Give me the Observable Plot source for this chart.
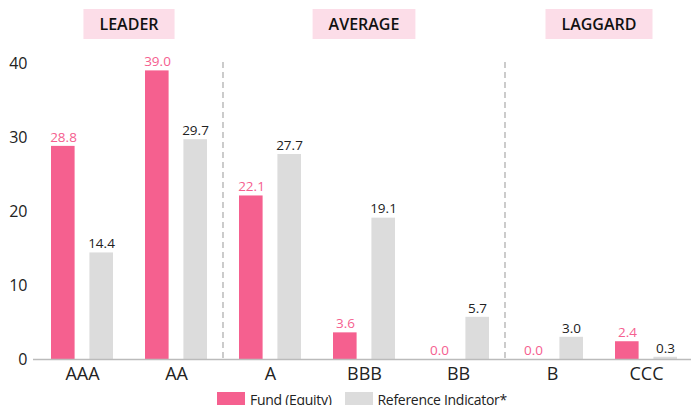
<!DOCTYPE html>
<html>
<head>
<meta charset="utf-8">
<script src="https://cdn.jsdelivr.net/npm/d3@7"></script>
<script src="https://cdn.jsdelivr.net/npm/@observablehq/plot@0.6"></script>
<style>
  html, body { margin: 0; padding: 0; background: #fff; overflow: hidden; }
  body { font-family: "Open Sans", sans-serif; width: 691px; height: 405px; }
  #chart svg { display: block; overflow: visible; }
  .legend { display: flex; justify-content: center; gap: 13px; padding-left: 33px; margin-top: 4px;
            font-size: 14px; color: #222; line-height: 16px; letter-spacing: -0.3px; }
  .legend span.item { display: flex; align-items: flex-start; gap: 5px; }
  .legend i { display: inline-block; width: 28px; height: 16px; }
</style>
</head>
<body>
<div id="chart"></div>
<div class="legend">
  <span class="item"><i style="background:#f5608f"></i>Fund (Equity)</span>
  <span class="item"><i style="background:#dcdcdc"></i>Reference Indicator*</span>
</div>
<script>
const categories = ["AAA", "AA", "A", "BBB", "BB", "B", "CCC"];
const fund = [28.8, 39.0, 22.1, 3.6, 0.0, 0.0, 2.4];
const reference = [14.4, 29.7, 27.7, 19.1, 5.7, 3.0, 0.3];
const groupNames = ["LEADER", "AVERAGE", "LAGGARD"];
const groupStart = ["AAA", "A", "B"];
const groupEnd = ["AA", "BB", "CCC"];
const yTicks = [0, 10, 20, 30, 40];

const PINK = "#f5608f";
const GREY = "#dcdcdc";

const fundData = categories.map((c, i) => ({cat: c, v: fund[i]}));
const refData = categories.map((c, i) => ({cat: c, v: reference[i]}));

const plot = Plot.plot({
  width: 691,
  height: 388,
  marginLeft: 33,
  marginRight: -3,
  marginTop: 63,
  marginBottom: 29,
  style: {fontFamily: "Open Sans", background: "transparent"},
  x: {domain: categories, padding: 0, label: null},
  y: {domain: [0, 40], label: null},
  marks: [
    Plot.barY(fundData, {x: "cat", y: "v", fill: PINK, insetLeft: 16, insetRight: 54.4}),
    Plot.barY(refData, {x: "cat", y: "v", fill: GREY, insetLeft: 54.4, insetRight: 16}),
    Plot.ruleY([0], {stroke: "#bbbbbb", strokeWidth: 1.5}),
    Plot.text(fundData, {x: "cat", y: "v", text: d => d.v.toFixed(1), dx: -19, dy: -9, fill: PINK,
      fontSize: 13.5, fontWeight: 500, textAnchor: "middle", letterSpacing: -0.6}),
    Plot.text(refData, {x: "cat", y: "v", text: d => d.v.toFixed(1), dx: 19, dy: -9, fill: "#222",
      fontSize: 13.5, textAnchor: "middle", letterSpacing: -0.6}),
    Plot.axisY({ticks: yTicks, tickSize: 0, tickPadding: 6, fontSize: 16, fill: "#222", label: null}),
    Plot.axisX({tickSize: 0, tickPadding: 8, fontSize: 18, fill: "#222", label: null})
  ]
});
document.getElementById("chart").appendChild(plot);

// separators and group headers positioned through the plot's own x scale
const xs = plot.scale("x");
const bw = xs.bandwidth;
const yScale = plot.scale("y");
const svg = d3.select(plot);
const sepLayer = svg.append("g");
["A", "B"].forEach(c => {
  const xx = xs.apply(c);
  sepLayer.append("line")
    .attr("x1", xx).attr("x2", xx)
    .attr("y1", yScale.apply(40) - 1).attr("y2", yScale.apply(0))
    .attr("stroke", "#aaaaaa").attr("stroke-width", 1.2).attr("stroke-dasharray", "6,4");
});
const hdr = svg.append("g");
groupNames.forEach((g, i) => {
  const x0 = xs.apply(groupStart[i]);
  const x1 = xs.apply(groupEnd[i]) + bw;
  const cx = (x0 + x1) / 2;
  const t = hdr.append("text").attr("x", cx).attr("y", 24)
    .attr("text-anchor", "middle").attr("dominant-baseline", "central")
    .attr("font-family", "Open Sans").attr("font-weight", 600).attr("font-size", 16)
    .attr("fill", "#111").text(g);
  const w = t.node().getComputedTextLength() + 32;
  hdr.insert("rect", "text").attr("x", cx - w / 2).attr("y", 9).attr("width", w).attr("height", 30)
    .attr("fill", "#fcdde8");
});
</script>
</body>
</html>
